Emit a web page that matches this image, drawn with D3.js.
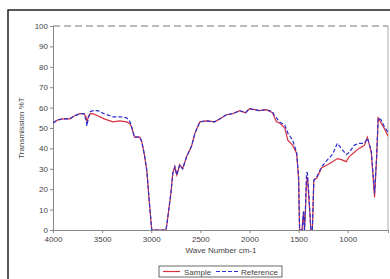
<!DOCTYPE html>
<html>
<head>
<meta charset="utf-8">
<script src="https://cdn.jsdelivr.net/npm/d3@7"></script>
<style>
  body { margin: 0; background: #fff; }
  svg text { font-family: "Liberation Sans", Arial, sans-serif; fill: #444; }
</style>
</head>
<body>
<div id="chart"></div>
<script>
var waveNumbers = [4000,3950,3900,3830,3780,3725,3685,3665,3655,3640,3620,3595,3545,3480,3390,3320,3250,3215,3200,3170,3115,3095,3070,3045,3020,2995,2850,2840,2800,2780,2760,2740,2710,2680,2640,2590,2555,2505,2435,2355,2300,2235,2170,2100,2040,2000,1950,1900,1830,1765,1745,1725,1695,1640,1610,1560,1520,1500,1490,1465,1450,1440,1430,1420,1410,1395,1375,1360,1345,1315,1265,1205,1155,1105,1065,1015,985,935,885,830,800,760,727,705,690,660,630,605,590];

var sample = [52.5,54,54.5,54.5,56,57,57,55.5,53,55.5,57,57,56,54.5,53,53.5,53,52,50.5,45.5,45.5,43,37,29,14,0,0,3,18,28,31,27,32,30,36,41,47.5,53,53.5,53,54.5,56.5,57,58.5,57.5,59.5,59,58.5,59,57.5,55,53,52.5,50,44,41.5,37.5,25,0,0,9,0,10,23,26,15,0,0,24.5,25.5,30.5,32,33.5,35,34.5,33.5,36,38,40,41.5,45.5,38,16,36,55,52.5,50,47.5,46];

var reference = [52.5,54,54.5,54.5,56,57,57,54,51,55,58,58.5,58.5,57,55.5,55.5,55,53,50.5,45.5,45.5,43,37,29,14,0,0,3,18,28,31,27,32,30,36,41,47.5,53,53.5,53,54.5,56.5,57,58.5,57.5,59.5,59,58.5,59,58,56,55,53,51.5,47.5,44,38,26,0,0,9,0,11,28,28,17,0,0,24.5,26,31,34.5,37,42.5,40,37,38,41.5,42.5,42.5,45,39,18,37,55,54,51,49,48];

var xTicks = [4000,3500,3000,2500,2000,1500,1000];
var yTicks = [0,10,20,30,40,50,60,70,80,90,100];

var width = 390, height = 279;
var plotLeft = 53, plotRight = 388, plotTop = 26, plotBottom = 230;
var red = "#d8323f", blue = "#2b2fcf";

var svg = d3.select("#chart").append("svg")
    .attr("width", width)
    .attr("height", height);

// outer frame
svg.append("rect")
    .attr("x", 8).attr("y", 10)
    .attr("width", 400).attr("height", 300)
    .attr("fill", "none")
    .attr("stroke", "#222")
    .attr("stroke-width", 1.5);

var x = d3.scaleLinear().domain([4000, 590]).range([plotLeft, plotRight]);
var y = d3.scaleLinear().domain([0, 100]).range([plotBottom, plotTop]);

// plot border: dashed top, grey right
svg.append("line")
    .attr("x1", plotLeft).attr("x2", plotRight)
    .attr("y1", y(100)).attr("y2", y(100))
    .attr("stroke", "#777")
    .attr("stroke-dasharray", "7,4");
svg.append("line")
    .attr("x1", plotRight).attr("x2", plotRight)
    .attr("y1", y(100)).attr("y2", plotBottom)
    .attr("stroke", "#aaa");

var xAxis = svg.append("g")
    .attr("transform", "translate(0," + plotBottom + ")")
    .call(d3.axisBottom(x).tickValues(xTicks).tickSize(3).tickPadding(3).tickFormat(d3.format("d")));
var yAxis = svg.append("g")
    .attr("transform", "translate(" + plotLeft + ",0)")
    .call(d3.axisLeft(y).tickValues(yTicks).tickSize(3).tickPadding(2));

[xAxis, yAxis].forEach(function(a) {
    a.selectAll("path").attr("stroke", "#888");
    a.selectAll("line").attr("stroke", "#888");
    a.selectAll("text").attr("font-size", 8).style("fill", "#444");
});

svg.append("clipPath").attr("id", "clip")
    .append("rect")
    .attr("x", plotLeft).attr("y", plotTop)
    .attr("width", plotRight - plotLeft).attr("height", plotBottom - plotTop);

var line = d3.line()
    .x(function(d, i) { return x(waveNumbers[i]); })
    .y(function(d) { return y(d); });

svg.append("path")
    .datum(sample)
    .attr("clip-path", "url(#clip)")
    .attr("d", line)
    .attr("fill", "none")
    .attr("stroke", red)
    .attr("stroke-width", 1.2);

svg.append("path")
    .datum(reference)
    .attr("clip-path", "url(#clip)")
    .attr("d", line)
    .attr("fill", "none")
    .attr("stroke", blue)
    .attr("stroke-width", 1.2)
    .attr("stroke-dasharray", "4,2");

// titles
svg.append("text")
    .attr("x", 221).attr("y", 253)
    .attr("text-anchor", "middle")
    .attr("font-size", 8)
    .text("Wave Number cm-1");

svg.append("text")
    .attr("transform", "translate(24,128) rotate(-90)")
    .attr("text-anchor", "middle")
    .attr("font-size", 8)
    .text("Transmission %T");

// legend
var legend = svg.append("g");
legend.append("rect")
    .attr("x", 159).attr("y", 266)
    .attr("width", 123).attr("height", 11)
    .attr("fill", "#fff")
    .attr("stroke", "#444")
    .attr("stroke-width", 0.8);
legend.append("line")
    .attr("x1", 163).attr("x2", 180).attr("y1", 271.5).attr("y2", 271.5)
    .attr("stroke", red).attr("stroke-width", 1.2);
legend.append("text")
    .attr("x", 184).attr("y", 274.5)
    .attr("font-size", 8)
    .text("Sample");
legend.append("line")
    .attr("x1", 216).attr("x2", 238).attr("y1", 271.5).attr("y2", 271.5)
    .attr("stroke", blue).attr("stroke-width", 1.2)
    .attr("stroke-dasharray", "4,2");
legend.append("text")
    .attr("x", 241).attr("y", 274.5)
    .attr("font-size", 8)
    .text("Reference");
</script>
</body>
</html>
